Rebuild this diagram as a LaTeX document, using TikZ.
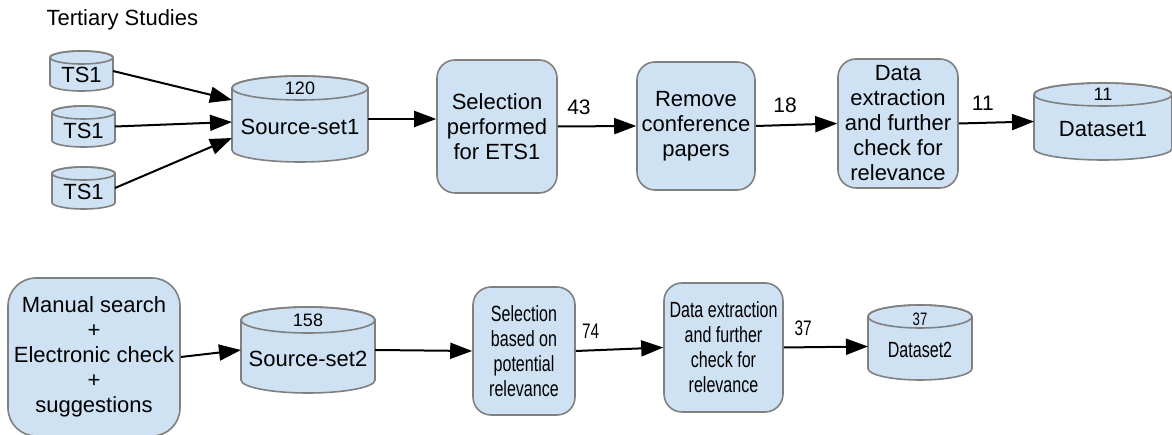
\documentclass[tikz,border=0pt]{standalone}
\usepackage{fontspec}
\setmainfont{Liberation Sans}
\newfontfamily\narrowfont[FakeStretch=0.73]{Liberation Sans}
\usetikzlibrary{arrows.meta,calc,positioning}
\definecolor{boxFill}{HTML}{CFE2F3}
\definecolor{boxLine}{HTML}{808080}
\definecolor{ink}{HTML}{000000}
\newcommand{\FigBody}{\fontsize{22}{25}\selectfont}
\newcommand{\FigSmall}{\fontsize{18}{20}\selectfont}
\newcommand{\FigEdge}{\fontsize{21}{23}\selectfont}
\newcommand{\FigNarrow}{\narrowfont\fontsize{22}{25}\selectfont}
\newcommand{\FigNarrowEdge}{\narrowfont\fontsize{21}{23}\selectfont}
\tikzset{
  stage/.style={draw=boxLine, fill=boxFill, line width=1.6pt, rounded corners=18pt,
    align=center, font=\FigBody, inner sep=0pt, text=ink},
  storebody/.style={inner sep=0pt, outer sep=0pt},
  storeshape/.style={draw=boxLine, fill=boxFill, line width=1.6pt},
  storenum/.style={font=\FigSmall, inner sep=0pt, text=ink},
  storetext/.style={font=\FigBody, inner sep=0pt, text=ink},
  flow/.style={-{Triangle[length=22pt,width=16pt]}, line width=2pt, ink},
  count/.style={font=\FigEdge, inner sep=0pt, above=11pt, text=ink},
}
% cylinder: [font switch]{name}{centre}{width}{height}{ellipse radius}{label}
\newcommand{\dbstore}[7][]{%
  \node[storebody, minimum width=#4, minimum height=#5] (#2) at (#3) {};
  \path[storeshape] ([yshift=-#6]#2.north west) -- ([yshift=#6]#2.south west)
    arc[start angle=180, end angle=360, x radius=#4/2, y radius=#6]
    -- ([yshift=-#6]#2.north east)
    arc[start angle=0, end angle=180, x radius=#4/2, y radius=#6] -- cycle;
  \draw[storeshape, fill=none] ([yshift=-#6]#2.north) ellipse[x radius=#4/2, y radius=#6];
  \node[storetext] (#2-name) at ([yshift=-0.65*#6]#2.center) {#1#7};
}

\begin{document}
\begin{tikzpicture}[x=1pt,y=1pt]
  \useasboundingbox (0,0) rectangle (1172,435);

  % first stream
  \node[anchor=west, font=\FigBody, text=ink] (title) at (43,415) {Tertiary Studies};
  \dbstore{tsa}{81.5,364}{63pt}{40pt}{6.5pt}{TS1}
  \dbstore{tsb}{83.5,308.5}{63pt}{41pt}{6.5pt}{TS1}
  \dbstore{tsc}{83.5,247}{63pt}{42pt}{6.5pt}{TS1}
  \dbstore{src1}{300,316}{136pt}{86pt}{12pt}{Source-set1}
  \node[storenum] (src1-num) at ([yshift=-12pt]src1.north) {120};
  \node[stage, minimum width=120pt, minimum height=133pt] (sel1) at (497,308.5)
    {Selection\\performed\\for ETS1};
  \node[stage, minimum width=118pt, minimum height=128pt] (rem) at (696,309)
    {Remove\\conference\\papers};
  \node[stage, minimum width=120pt, minimum height=129pt] (dex1) at (898,311.5)
    {Data\\extraction\\and further\\check for\\relevance};
  \dbstore{ds1}{1103,313.5}{138pt}{77pt}{11.5pt}{Dataset1}
  \node[storenum] (ds1-num) at ([yshift=-11.5pt]ds1.north) {11};

  \draw[flow] (tsa.east) -- ([yshift=19pt]src1.west);
  \draw[flow] (tsb.east) -- ([yshift=-3pt]src1.west);
  \draw[flow] (tsc.east) -- ([yshift=-19pt]src1.west);
  \draw[flow] (src1.east) -- (src1.east -| sel1.west);
  \draw[flow] (sel1.east) -- node[count, pos=0.27] (c43) {43} (rem.west);
  \draw[flow] (rem.east) -- node[count, pos=0.36] (c18) {18} (dex1.west);
  \draw[flow] (dex1.east) -- node[count, pos=0.32] (c11) {11} (ds1.west);

  % second stream
  \node[stage, rounded corners=28pt, minimum width=172pt, minimum height=158pt] (man) at (94,78)
    {Manual search\\+\\Electronic check\\+\\suggestions};
  \dbstore{src2}{308,85}{134pt}{86pt}{13pt}{Source-set2}
  \node[storenum] (src2-num) at ([yshift=-13pt]src2.north) {158};
  \node[stage, font=\FigNarrow, minimum width=102pt, minimum height=128pt] (sel2) at (524,84)
    {Selection\\based on\\potential\\relevance};
  \node[stage, font=\FigNarrow, minimum width=119pt, minimum height=129pt] (dex2) at (723.5,87.5)
    {Data extraction\\and further\\check for\\relevance};
  \dbstore[\narrowfont]{ds2}{920,92.5}{104pt}{75pt}{11.5pt}{Dataset2}
  \node[storenum, font=\narrowfont\FigSmall] (ds2-num) at ([yshift=-14pt]ds2.north) {37};

  \draw[flow] (man.east) -- (src2.west);
  \draw[flow] (src2.east) -- (sel2.west);
  \draw[flow] (sel2.east) -- node[count, font=\FigNarrowEdge, pos=0.17] (c74) {74} (dex2.west);
  \draw[flow] (dex2.east) -- node[count, font=\FigNarrowEdge, pos=0.23] (c37) {37} ([yshift=-4pt]ds2.west);
\end{tikzpicture}
\end{document}
